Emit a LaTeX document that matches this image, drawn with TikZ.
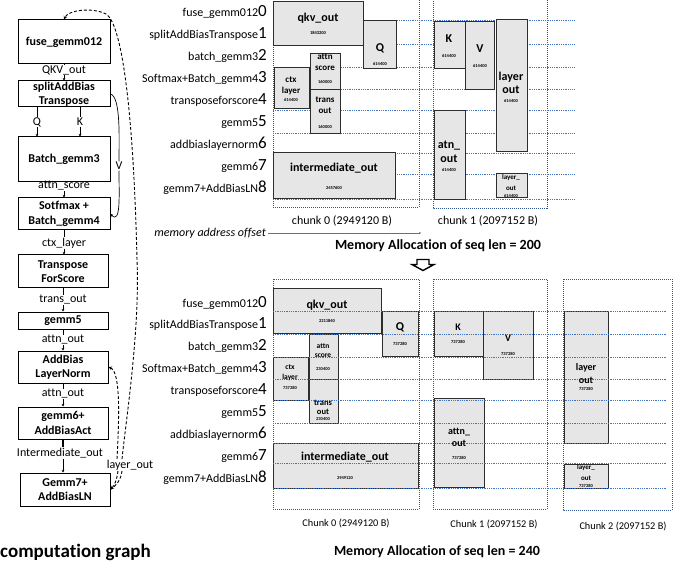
\documentclass[tikz,border=0pt]{standalone}
\usepackage{fontspec}
\setmainfont{Carlito}[Ligatures={TeX,NoCommon}]
\usetikzlibrary{arrows.meta}
\definecolor{boxfill}{RGB}{231,230,230}
\definecolor{boxline}{RGB}{45,45,45}
\definecolor{gridblue}{RGB}{68,114,196}
\definecolor{chunkblue}{RGB}{47,85,151}
\definecolor{arrgray}{RGB}{110,110,110}
\newcommand{\fs}[1]{\fontsize{#1}{#1}\selectfont}
\tikzset{
 opbox/.style={draw=black, line width=1pt, fill=white, align=center, inner sep=0pt, font=\fontsize{12}{14.5}\selectfont\bfseries},
 elab/.style={inner sep=0.5pt, font=\fs{12}},
 flow/.style={line width=0.7pt, draw=black},
 flowarr/.style={flow, -{Stealth[length=2.6pt,width=2.8pt]}},
 dashdraw/.style={line width=0.9pt, draw=black, dash pattern=on 3pt off 2pt},
 tipd/.tip={Stealth[length=3.5pt,width=3.5pt]},
 mem/.style={draw=boxline, fill=boxfill, line width=1pt},
 gridl/.style={draw=gridblue, line width=0.8pt, dash pattern=on 0.9pt off 0.9pt},
 chunkbox/.style={draw=chunkblue, line width=0.9pt, dash pattern=on 1pt off 1pt},
 rowlab/.style={anchor=base east, inner sep=0pt, font=\fs{12}},
 mlab/.style={font=\fs{12}\bfseries, inner sep=0pt, align=center},
 nlab/.style={font=\fs{9}\bfseries, inner sep=0pt, align=center},
 num/.style={font=\fs{4.5}\bfseries, inner sep=0pt},
}
\begin{document}
\begin{tikzpicture}[x=1pt,y=-1pt]
\useasboundingbox (0,0) rectangle (689,567);

% ---------------- computation graph ----------------
\node[opbox, minimum width=92pt, minimum height=44pt] (fuse) at (64,42) {fuse\_gemm012};
\node[opbox, minimum width=92pt, minimum height=26pt] (split) at (64,94) {splitAddBias\\Transpose};
\node[opbox, minimum width=92pt, minimum height=45pt] (batch) at (64,159.5) {Batch\_gemm3};
\node[opbox, minimum width=92pt, minimum height=32pt] (sotf) at (64,214) {Sotfmax +\\Batch\_gemm4};
\node[opbox, minimum width=90pt, minimum height=33pt] (tfs) at (63,271.5) {Transpose\\ForScore};
\node[opbox, minimum width=90pt, minimum height=17pt] (g5) at (63,320.5) {gemm5};
\node[opbox, minimum width=90pt, minimum height=32pt] (ab) at (63,367) {AddBias\\LayerNorm};
\node[opbox, minimum width=90pt, minimum height=32pt] (g6) at (63,423) {gemm6+\\AddBiasAct};
\node[opbox, minimum width=90pt, minimum height=33pt] (g7) at (65,489.5) {Gemm7+\\AddBiasLN};

\node[elab] (lqkv) at (64,70) {QKV\_out};
\node[elab] (lq) at (37,122) {Q};
\node[elab] (lk) at (80,122) {K};
\node[elab] (las) at (64,186) {attn\_score};
\node[elab] (lctx) at (64,243) {ctx\_layer};
\node[elab] (lto) at (63,300) {trans\_out};
\node[elab] (lao1) at (63,340) {attn\_out};
\node[elab] (lao2) at (63,394) {attn\_out};
\node[elab] (lint) at (60,453) {Intermediate\_out};
\node[elab] (llo) at (130,465) {layer\_out};
\node[elab] (lv) at (119,166) {V};

\draw[flow] (fuse.south) -- (lqkv.north);
\draw[flowarr] (lqkv.south) -- (split.north);
\draw[flow] (split.south -| lq) -- (lq.north);
\draw[flowarr] (lq.south) -- (lq |- batch.north);
\draw[flow] (split.south -| lk) -- (lk.north);
\draw[flowarr] (lk.south) -- (lk |- batch.north);
\draw[flow] (batch.south) -- (las.north);
\draw[flowarr] (las.south) -- (sotf.north);
\draw[flow] (sotf.south) -- (lctx.north -| sotf.south);
\draw[flowarr] (lctx.south -| sotf.south) -- (sotf.south |- tfs.north);
\draw[flow] (tfs.south) -- (lto.north);
\draw[flowarr] (lto.south) -- (g5.north);
\draw[flow] (g5.south) -- (lao1.north);
\draw[flowarr] (lao1.south) -- (ab.north);
\draw[flow] (ab.south) -- (lao2.north);
\draw[flowarr] (lao2.south) -- (g6.north);
\draw[flow, line width=1.2pt] (g6.south) -- (g6.south |- lint.north);
\draw[flowarr] (g6.south |- lint.south) -- (g6.south |- g7.north);

\draw[flow] (split.east) .. controls (121,97) and (119,140) .. (lv.north);
\draw[flowarr] (lv.south) .. controls (119,195) and (121,225) .. (sotf.east);

\draw[dashdraw, {tipd}-] (ab.east) .. controls (121,372) and (119,420) .. ([xshift=-13pt]llo.north);
\draw[dashdraw, -{tipd}] ([xshift=-8pt]llo.north) .. controls (126,420) and (140,330) .. (137,260)
   .. controls (134,130) and (124,25) .. (106,14) .. controls (92,7) and (68,10) .. (fuse.north);
\draw[dashdraw, -{tipd}] ([xshift=-12pt]llo.south) .. controls (117,480) and (114,486) .. (g7.east);
\draw[dashdraw] ([xshift=-8pt]llo.south) .. controls (121,480) and (116,486) .. (g7.east);

\node[anchor=base west, font=\fs{19}\bfseries, inner sep=0pt] (cg) at (0,557.5) {computation graph};

% ---------------- top chart (seq len 200) ----------------
\draw[chunkbox] (273,-5) rectangle (419,207);
\draw[chunkbox] (433,-5) rectangle (547,208);
\foreach \y in {20,44,67,89,110,133,153,174,199} \draw[gridl] (273,\y) -- (575,\y);

\draw[mem] (273,2) rectangle (363,46);
\draw[mem] (363,21) rectangle (396,69);
\draw[mem] (310,54) rectangle (340,90);
\draw[mem] (310,90) rectangle (340,134);
\draw[mem] (274,68) rectangle (309,109);
\draw[mem] (273,153) rectangle (395,199);
\draw[mem] (434,22) rectangle (465,69);
\draw[mem] (465,22) rectangle (494,90);
\draw[mem] (496,20) rectangle (527,152);
\draw[mem] (434,111) rectangle (465,200);
\draw[mem] (496,174) rectangle (527,198);

\node[mlab] at (318,18) {qkv\_out};   \node[num] at (318,33) {1843200};
\node[mlab] at (380,48) {Q};          \node[num] at (380,64) {614400};
\node[nlab] at (325,57) {attn};       \node[nlab] at (325,68) {score}; \node[num] at (325,82) {160000};
\node[nlab] at (291,80) {ctx};        \node[nlab] at (291,91) {layer}; \node[num] at (291,99.5) {614400};
\node[nlab] at (325,100) {trans};     \node[nlab] at (325,111) {out};  \node[num] at (325,127) {160000};
\node[mlab] at (334,168) {intermediate\_out}; \node[num] at (334,188) {2457600};
\node[mlab] at (449,39) {K};          \node[num] at (449,56) {614400};
\node[mlab] at (480,49) {V};          \node[num] at (480,66) {614400};
\node[mlab] at (511,77) {layer};      \node[mlab] at (511,90) {out}; \node[num] at (511,101) {614400};
\node[mlab] at (449,146) {atn\_};     \node[mlab] at (449,159) {out}; \node[num] at (449,170) {614400};
\node[font=\fs{7}\bfseries, inner sep=0pt] at (511,178) {layer\_};
\node[font=\fs{7}\bfseries, inner sep=0pt] at (511,188) {out};
\node[num] at (511,196) {614400};

\foreach \t [count=\i from 0] in {fuse\_gemm012, splitAddBiasTranspose, batch\_gemm3, Softmax+Batch\_gemm4, transposeforscore, gemm5, addbiaslayernorm, gemm6, gemm7+AddBiasLN} {
  \node[rowlab] (ta\i) at (267,{17+22*\i}) {\t{\fs{17}\i}};
  \node[rowlab] (ba\i) at (267,{307+21.9*\i}) {\t{\fs{17}\i}};
}

\node[font=\fs{12}, inner sep=0pt] (c0a) at (342,221) {chunk 0 (2949120 B)};
\node[font=\fs{12}, inner sep=0pt] (c1a) at (488,221) {chunk 1 (2097152 B)};
\node[font=\fs{12}\itshape, anchor=east, inner sep=2pt] (mao) at (268,233) {memory address offset};
\coordinate (maend) at (421,233);
\draw[arrgray, line width=0.6pt, -{Stealth[length=2pt,width=2.2pt]}] (mao) -- (maend);
\node[font=\fs{14}\bfseries, inner sep=0pt] (t200) at (438,246) {Memory Allocation of seq len = 200};

% hollow arrow
\draw[line width=1.4pt, fill=white, line join=miter] (417,259.5) -- (429,259.5) -- (429,264.5) -- (434,264.5) -- (423,270.5) -- (412,264.5) -- (417,264.5) -- cycle;

% ---------------- bottom chart (seq len 240) ----------------
\draw[chunkbox] (273,279) rectangle (419,509);
\draw[chunkbox] (433,279) rectangle (547,509);
\draw[chunkbox] (563,279) rectangle (672,510);

\draw[mem] (273,289) rectangle (381,333);
\draw[mem] (382,311) rectangle (418,356);
\draw[mem] (309,334) rectangle (338,379);
\draw[mem] (273,357) rectangle (308,400);
\draw[mem] (309,379) rectangle (338,423);
\draw[mem] (273,443) rectangle (418,488);
\draw[mem] (434,311) rectangle (483,356);
\draw[mem] (483,311) rectangle (533,379);
\draw[mem] (564,311) rectangle (608,443);
\draw[mem] (434,398) rectangle (484,487);
\draw[mem] (564,464) rectangle (608,488);

\foreach \y in {311,334,357,379,400,423,443,463,488} \draw[gridl] (273,\y) -- (667,\y);

\node[mlab] at (327,305) {qkv\_out};  \node[num] at (327,321) {2211840};
\node[mlab] at (400,327) {Q};         \node[num] at (400,344) {737280};
\node[font=\fs{7.5}\bfseries, inner sep=0pt] at (323,346) {attn};
\node[font=\fs{7.5}\bfseries, inner sep=0pt] at (323,355.5) {score};
\node[num] at (323,369) {230400};
\node[font=\fs{7.5}\bfseries, inner sep=0pt] at (290,367) {ctx};
\node[font=\fs{7.5}\bfseries, inner sep=0pt] at (290,377) {layer};
\node[num] at (290,388) {737280};
\node[font=\fs{8.5}\bfseries, inner sep=0pt] at (323,403) {trans};
\node[font=\fs{8.5}\bfseries, inner sep=0pt] at (323,412) {out};
\node[num] at (323,419) {230400};
\node[mlab] at (345,457) {intermediate\_out}; \node[num] at (345,478) {2949120};
\node[font=\fs{10}\bfseries, inner sep=0pt] at (458,327) {K};  \node[num] at (458,342) {737280};
\node[font=\fs{10}\bfseries, inner sep=0pt] at (508,338) {V};  \node[num] at (508,354) {737280};
\node[font=\fs{10}\bfseries, inner sep=0pt] at (586,368) {layer};
\node[font=\fs{10}\bfseries, inner sep=0pt] at (586,380.5) {out};
\node[num] at (586,389) {737280};
\node[font=\fs{10}\bfseries, inner sep=0pt] at (459,432) {attn\_};
\node[font=\fs{10}\bfseries, inner sep=0pt] at (459,443) {out};
\node[num] at (459,458) {737280};
\node[font=\fs{7}\bfseries, inner sep=0pt] at (586,468) {layer\_};
\node[font=\fs{7}\bfseries, inner sep=0pt] at (586,478) {out};
\node[num] at (586,486) {737280};

\node[font=\fs{10.3}, inner sep=0pt] (c0b) at (346,523) {Chunk 0 (2949120 B)};
\node[font=\fs{10.3}, inner sep=0pt] (c1b) at (494,524) {Chunk 1 (2097152 B)};
\node[font=\fs{10.3}, inner sep=0pt] (c2b) at (623,526) {Chunk 2 (2097152 B)};
\node[font=\fs{14}\bfseries, inner sep=0pt] (t240) at (437,552) {Memory Allocation of seq len = 240};
\end{tikzpicture}
\end{document}
